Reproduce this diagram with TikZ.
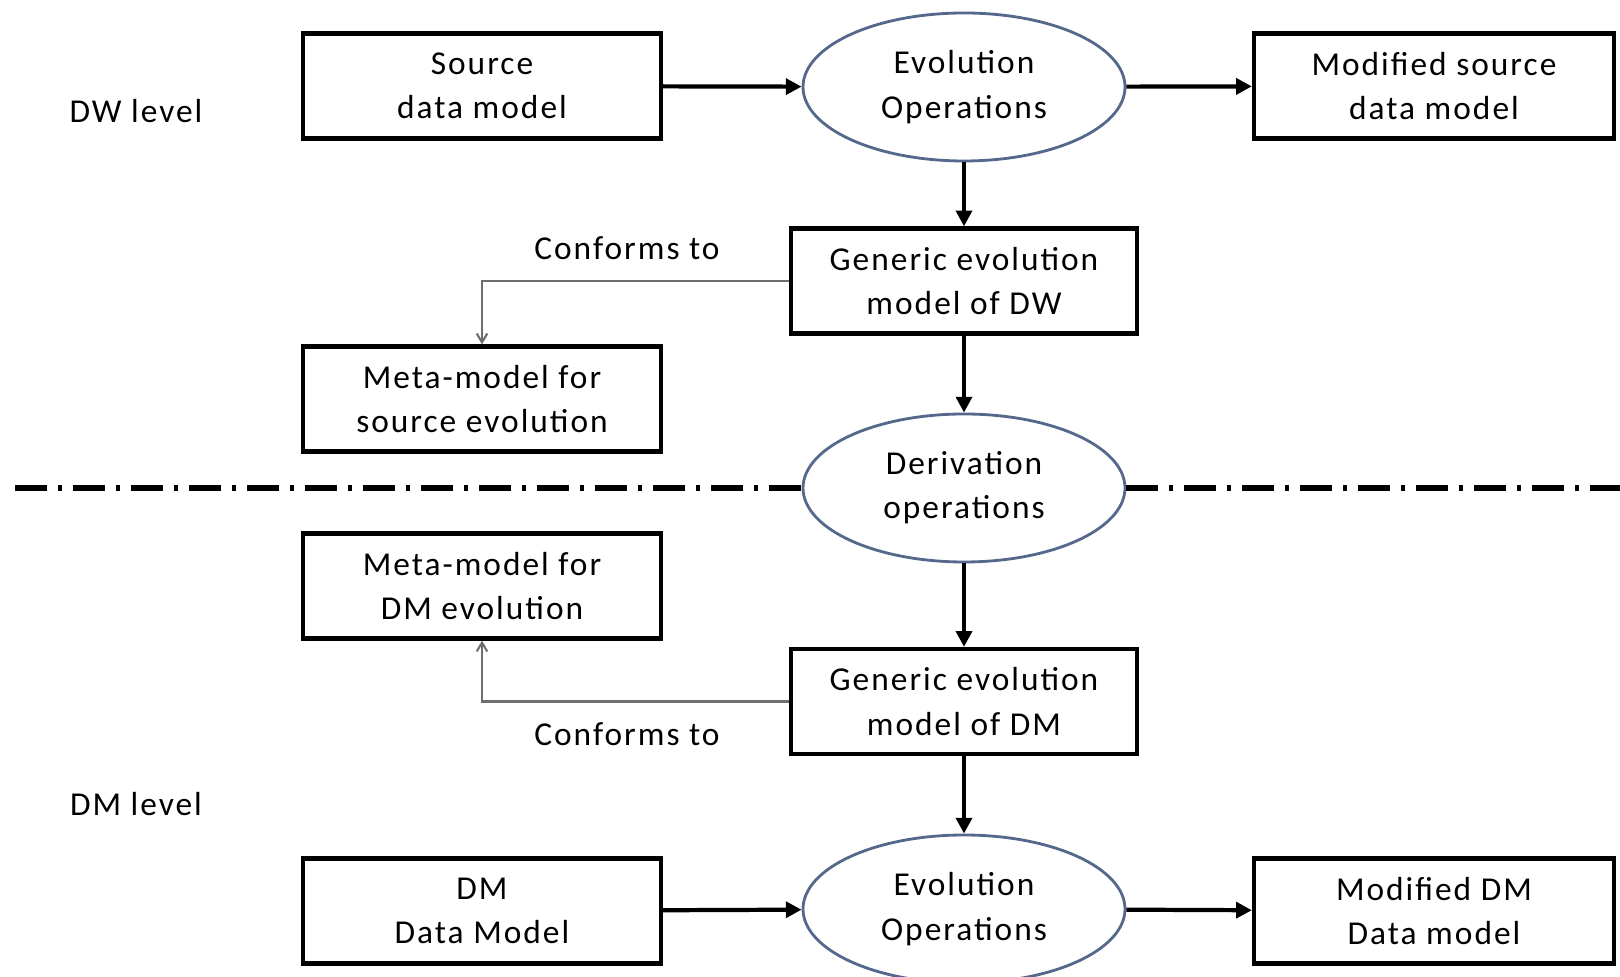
\documentclass[tikz,border=0pt]{standalone}
\usepackage{fontspec}
\setmainfont{Carlito}[LetterSpace=6]
\usetikzlibrary{shapes.geometric,arrows.meta}
\definecolor{ellline}{RGB}{84,104,140}
\definecolor{connline}{RGB}{110,110,110}

\begin{document}
\begin{tikzpicture}[font=\fontsize{9.5}{12.6}\selectfont,
    box/.style = {draw, line width=1.2pt, minimum height=1.05cm, align=center, inner sep=2pt},
    oval/.style = {ellipse, draw=ellline, line width=0.8pt, fill=white, minimum width=3.22cm, minimum height=1.48cm, inner sep=0pt, align=center},
    flow/.style = {line width=1.2pt, -{Triangle[length=4.5pt,width=4.5pt]}},
    conf/.style = {draw=connline, line width=0.6pt, -{Straight Barb[length=2.5pt,width=3pt]}},
    sep/.style = {line width=1.6pt, dash pattern=on 0.32cm off 0.11cm on 0.04cm off 0.11cm}]
    \useasboundingbox (0,0) rectangle (16.2,9.76);
    % DW level
    \node (dw) at (1.36,8.65) {DW level};
    \node[box, minimum width=3.58cm] (src) at (4.82,8.90) {Source\\data model};
    \node[oval] (evo1) at (9.64,8.89) {Evolution\\Operations};
    \node[box, minimum width=3.60cm] (mod1) at (14.34,8.90) {Modified source\\data model};
    \node[box, minimum width=3.46cm] (gdw) at (9.64,6.95) {Generic evolution\\model of DW};
    \node[box, minimum width=3.58cm] (metasrc) at (4.82,5.77) {Meta-model for\\source evolution};
    \node (conf1) at (6.27,7.28) {Conforms to};
    % separator
    \coordinate (lft) at (0.15,4.88);
    \coordinate (rgt) at (16.2,4.88);
    \node[oval] (der) at (9.64,4.88) {Derivation\\operations};
    \draw[sep] (lft) -- (der.west);
    \draw[sep] (der.east) -- (rgt);
    % DM level
    \node[box, minimum width=3.58cm] (metadm) at (4.82,3.90) {Meta-model for\\DM evolution};
    \node[box, minimum width=3.46cm] (gdm) at (9.64,2.745) {Generic evolution\\model of DM};
    \node (conf2) at (6.27,2.42) {Conforms to};
    \node (dml) at (1.36,1.72) {DM level};
    \node[box, minimum width=3.58cm] (dmm) at (4.82,0.65) {DM\\Data Model};
    \node[oval] (evo2) at (9.64,0.67) {Evolution\\Operations};
    \node[box, minimum width=3.60cm] (mod2) at (14.34,0.65) {Modified DM\\Data model};
    % connectors
    \draw[flow] (src) -- (evo1);
    \draw[flow] (evo1) -- (mod1);
    \draw[flow] (evo1) -- (gdw);
    \draw[flow] (gdw) -- (der);
    \draw[flow] (der) -- (gdm);
    \draw[flow] (gdm) -- (evo2);
    \draw[flow] (dmm) -- (evo2);
    \draw[flow] (evo2) -- (mod2);
    \draw[conf] (gdw.west) -| (metasrc.north);
    \draw[conf] (gdm.west) -| (metadm.south);
\end{tikzpicture}
\end{document}
